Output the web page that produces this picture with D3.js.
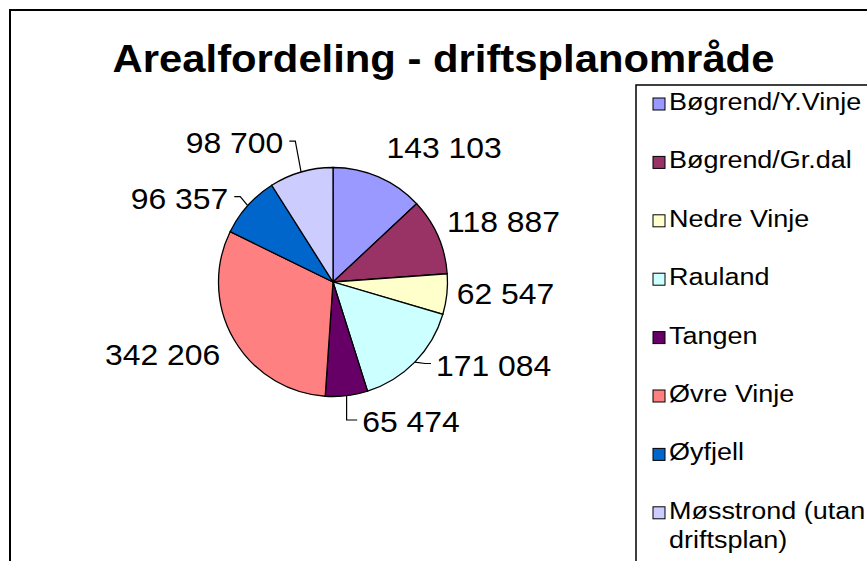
<!DOCTYPE html>
<html>
<head>
<meta charset="utf-8">
<script src="https://cdn.jsdelivr.net/npm/d3@7"></script>
<style>
  body { margin: 0; background: #fff; }
  text { font-family: "Liberation Sans", Arial, sans-serif; fill: #000; }
</style>
</head>
<body>
<script>
var areas = ["Bøgrend/Y.Vinje", "Bøgrend/Gr.dal", "Nedre Vinje", "Rauland",
             "Tangen", "Øvre Vinje", "Øyfjell", "Møsstrond (utan driftsplan)"];
var values = [143103, 118887, 62547, 171084, 65474, 342206, 96357, 98700];
var colors = ["#9999FF", "#993366", "#FFFFCC", "#CCFFFF",
              "#660066", "#FF8080", "#0066CC", "#CCCCFF"];

// label nudges away from the default outside-end spot [dx, dy, leader line]
var labelNudge = [[4, -10, 0], [0, 0, 0], [0, -6, 0], [14, -14, 1],
                  [40, 6, 1], [-5, 0, 0], [-12, 10, 1], [-15, -9, 1]];

var width = 867,
    height = 561,
    cx = 333, cy = 282,
    radius = 114.5,
    stretch = 1.1,      // the original text is a bit wide
    labelSize = 29;

var fmt = function(v) { return d3.format(",d")(v).replace(/,/g, " "); };

var svg = d3.select("body").append("svg")
    .attr("width", width)
    .attr("height", height);

// chart frame, runs off the right and bottom
svg.append("rect")
    .attr("x", 10).attr("y", 10)
    .attr("width", 900).attr("height", 600)
    .attr("fill", "#fff").attr("stroke", "#000").attr("stroke-width", 2);

function addText(parent, x, y, str, size, weight, anchor) {
  var g = parent.append("g").attr("transform", "translate(" + x + "," + y + ")");
  var t = g.append("text")
      .attr("transform", "scale(" + stretch + ",1)")
      .attr("text-anchor", anchor || "start")
      .style("font-size", size + "px")
      .style("font-weight", weight || "normal")
      .text(str);
  return { g: g, t: t };
}

addText(svg, 443.5, 72, "Arealfordeling - driftsplanområde", 38, "bold", "middle");

var pie = d3.pie().sort(null).value(function(d) { return d; });
var arc = d3.arc().innerRadius(0).outerRadius(radius);
var arcs = pie(values);

var g = svg.append("g").attr("transform", "translate(" + cx + "," + cy + ")");

g.selectAll("path.slice")
    .data(arcs)
  .enter().append("path")
    .attr("class", "slice")
    .attr("d", arc)
    .attr("fill", function(d, i) { return colors[i]; })
    .attr("stroke", "#000")
    .attr("stroke-width", 1.3);

function clamp(v) { return Math.max(-1, Math.min(1, v)); }

arcs.forEach(function(d, i) {
  var a = (d.startAngle + d.endAngle) / 2,
      s = Math.sin(a), c = -Math.cos(a),
      px = s * (radius + 10), py = c * (radius + 10);
  var lab = addText(g, 0, 0, fmt(values[i]), labelSize);
  var w = lab.t.node().getComputedTextLength() * stretch,
      h = labelSize * 0.716;
  var bx = px + w / 2 * clamp(s / 0.25) + labelNudge[i][0],
      by = py + h / 2 * clamp(c / 0.25) + labelNudge[i][1];
  lab.g.attr("transform", "translate(" + (bx - w / 2) + "," + (by + h / 2) + ")");

  if (labelNudge[i][2]) {
    var ex = s * radius, ey = c * radius,
        dir = bx > ex ? 1 : -1,
        ax = dir > 0 ? bx - w / 2 - 5 : bx + w / 2 + 6,
        kx = Math.abs(ax - ex) < 11 ? ex : ax - dir * 6;
    g.append("path")
        .attr("d", d3.line()([[ex, ey], [kx, by - 2], [ax, by - 2]]))
        .attr("fill", "none")
        .attr("stroke", "#000")
        .attr("stroke-width", 1.2);
  }
});

// legend box, also runs off the edge
var legend = svg.append("g");
legend.append("rect")
    .attr("x", 636).attr("y", 85)
    .attr("width", 300).attr("height", 520)
    .attr("fill", "#fff").attr("stroke", "#000").attr("stroke-width", 1.5);

var legendY = d3.scaleLinear().domain([0, 1]).range([110, 168.4]);

areas.forEach(function(name, i) {
  var y = legendY(i);
  legend.append("rect")
      .attr("x", 653).attr("y", y - 12)
      .attr("width", 12).attr("height", 12)
      .attr("fill", colors[i]).attr("stroke", "#000").attr("stroke-width", 1);
  var lines = name === "Møsstrond (utan driftsplan)" ? ["Møsstrond (utan", "driftsplan)"] : [name];
  lines.forEach(function(line, j) {
    addText(legend, 669, y + j * 29.5, line, 24.5);
  });
});
</script>
</body>
</html>
